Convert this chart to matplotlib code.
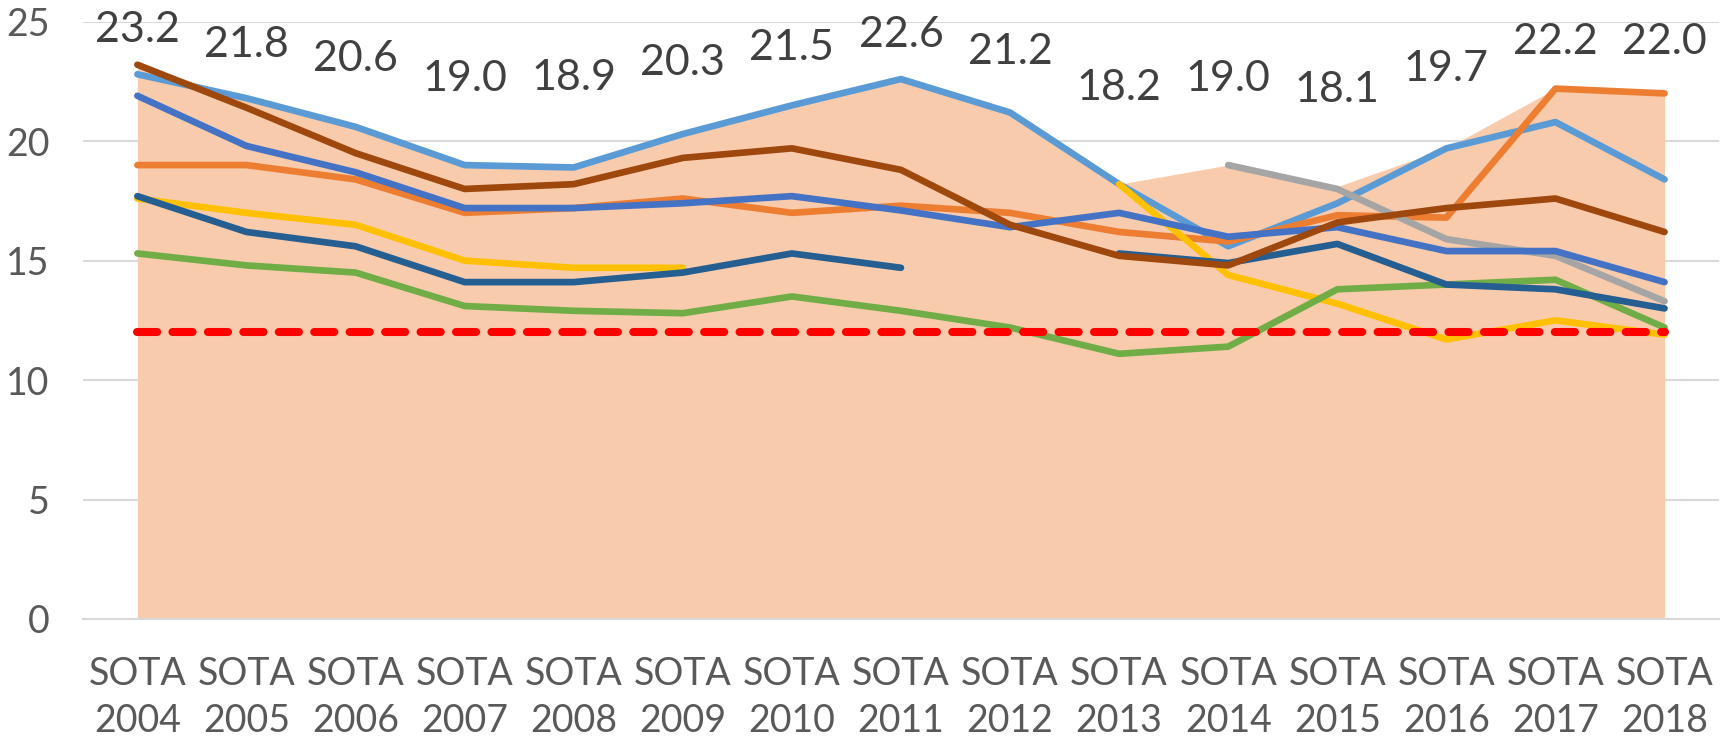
import numpy as np
import matplotlib
matplotlib.use("Agg")
import matplotlib.pyplot as plt

nan = np.nan
years = ["2004", "2005", "2006", "2007", "2008", "2009", "2010", "2011",
         "2012", "2013", "2014", "2015", "2016", "2017", "2018"]
categories = ["SOTA\n" + y for y in years]

area_max = [23.2, 21.8, 20.6, 19.0, 18.9, 20.3, 21.5, 22.6, 21.2, 18.2, 19.0, 18.1, 19.7, 22.2, 22.0]
light_blue = [22.8, 21.8, 20.6, 19.0, 18.9, 20.3, 21.5, 22.6, 21.2, 18.2, 15.6, 17.4, 19.7, 20.8, 18.4]
brown = [23.2, 21.4, 19.5, 18.0, 18.2, 19.3, 19.7, 18.8, 16.5, 15.2, 14.8, 16.6, 17.2, 17.6, 16.2]
mid_blue = [21.9, 19.8, 18.7, 17.2, 17.2, 17.4, 17.7, 17.1, 16.4, 17.0, 16.0, 16.4, 15.4, 15.4, 14.1]
orange = [19.0, 19.0, 18.4, 17.0, 17.2, 17.6, 17.0, 17.3, 17.0, 16.2, 15.8, 16.9, 16.8, 22.2, 22.0]
yellow = [17.6, 17.0, 16.5, 15.0, 14.7, 14.7, nan, nan, nan, 18.2, 14.4, 13.2, 11.7, 12.5, 11.9]
dark_blue = [17.7, 16.2, 15.6, 14.1, 14.1, 14.5, 15.3, 14.7, nan, 15.3, 14.9, 15.7, 14.0, 13.8, 13.0]
green = [15.3, 14.8, 14.5, 13.1, 12.9, 12.8, 13.5, 12.9, 12.2, 11.1, 11.4, 13.8, 14.0, 14.2, 12.2]
gray = [nan, nan, nan, nan, nan, nan, nan, nan, nan, nan, 19.0, 18.0, 15.9, 15.2, 13.3]
threshold = [12.0] * 15

# label baseline offsets (pixels above the area point) - layout only
label_offsets = [23, 41, 56, 74, 77, 59, 45, 32, 49, 84, 74, 85, 67, 35, 39]

fig = plt.figure(figsize=(17.26, 7.39), dpi=100)
ax = fig.add_axes([0.048, 0.1624, 0.948, 0.8082])

x = np.arange(len(years))
ax.fill_between(x, 0, area_max, color="#F8CBAD", linewidth=0, zorder=1)

series = [
    (light_blue, "#5B9BD5"),
    (orange, "#ED7D31"),
    (gray, "#A5A5A5"),
    (yellow, "#FFC000"),
    (mid_blue, "#4472C4"),
    (green, "#70AD47"),
    (dark_blue, "#255E91"),
    (brown, "#9E480E"),
]
for i, (vals, col) in enumerate(series):
    ax.plot(x, vals, color=col, lw=4.8, solid_capstyle="round",
            solid_joinstyle="round", zorder=3 + i)

ax.plot(x, threshold, color="#FF0000", lw=5.8, linestyle=(0, (2.5, 1.9)),
        dash_capstyle="round", zorder=20)

for xi, v, off in zip(x, area_max, label_offsets):
    ax.annotate(f"{v:.1f}", (xi, v), xytext=(0, off), textcoords="offset pixels",
                ha="center", va="baseline", fontsize=31, color="#404040",
                family="Lato", annotation_clip=False, zorder=30)

ax.set_xlim(-0.5, len(years) - 0.5)
ax.set_ylim(0, 25)
ax.set_yticks([0, 5, 10, 15, 20, 25])
ax.set_xticks(x)
ax.set_xticklabels(categories, linespacing=1.36)
ax.grid(axis="y", color="#D9D9D9", lw=1.5, zorder=0)
ax.set_axisbelow(True)
for s in ["top", "right", "left"]:
    ax.spines[s].set_visible(False)
ax.spines["bottom"].set_color("#D9D9D9")
ax.spines["bottom"].set_linewidth(1.5)
ax.tick_params(axis="both", length=0, labelsize=27, labelcolor="#595959")
ax.tick_params(axis="x", pad=27)
ax.tick_params(axis="y", pad=24)
for lab in ax.get_xticklabels() + ax.get_yticklabels():
    lab.set_family("Lato")

fig.savefig("out.png", dpi=100)
